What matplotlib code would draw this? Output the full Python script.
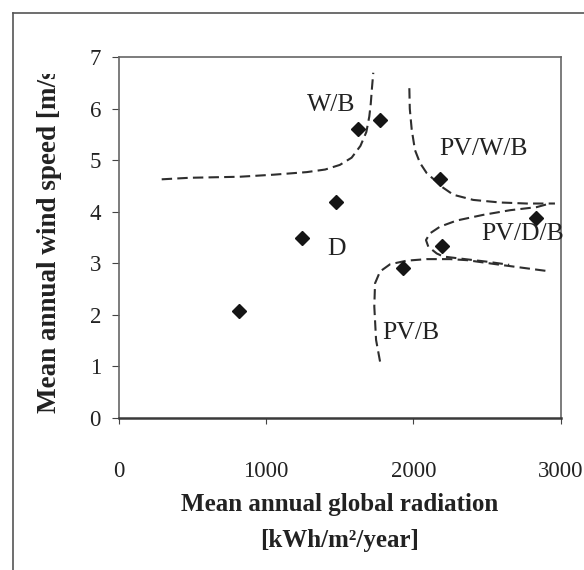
import numpy as np
import matplotlib
matplotlib.use("Agg")
import matplotlib.pyplot as plt
from matplotlib.lines import Line2D
from matplotlib.transforms import Bbox, TransformedBbox

plt.rcParams['font.family'] = ['Liberation Serif', 'DejaVu Serif']

# site data: mean annual global radiation [kWh/m2/year] vs mean wind speed [m/s]
rad = [813, 1242, 1472, 1624, 1773, 2179, 2197, 1932, 2833]
wind = [2.07, 3.49, 4.19, 5.60, 5.79, 4.63, 3.34, 2.91, 3.87]

# boundaries between optimal system configurations
wb_x = [290, 480, 820, 1050, 1275, 1400, 1500, 1580, 1640, 1680, 1700, 1710, 1718, 1727]
wb_y = [4.63, 4.66, 4.68, 4.72, 4.77, 4.82, 4.91, 5.05, 5.28, 5.55, 5.85, 6.10, 6.40, 6.70]

pvwb_x = [1972, 1975, 1988, 2010, 2044, 2090, 2150, 2200, 2271, 2406, 2588, 2769, 2961]
pvwb_y = [6.40, 6.00, 5.60, 5.20, 4.95, 4.75, 4.60, 4.47, 4.33, 4.23, 4.18, 4.16, 4.16]

pvdb_x = [2900, 2837, 2656, 2474, 2294, 2180, 2112, 2085, 2101, 2158, 2203, 2350, 2500, 2650]
pvdb_y = [4.14, 4.09, 4.03, 3.94, 3.83, 3.71, 3.58, 3.45, 3.32, 3.19, 3.13, 3.08, 3.03, 2.97]

pvb_x = [1773, 1746, 1734, 1739, 1773, 1841, 1954, 2090, 2248, 2362, 2588, 2905]
pvb_y = [1.09, 1.51, 2.16, 2.61, 2.84, 2.98, 3.05, 3.08, 3.08, 3.06, 2.97, 2.85]

regions = ["W/B", "PV/W/B", "PV/D/B", "D", "PV/B"]
region_pos = [(1439, 6.07), (2475, 5.22), (2740, 3.56), (1477, 3.28), (1982, 1.64)]

W, H = 584, 570
fig = plt.figure(figsize=(W / 100, H / 100), dpi=100)
ax = fig.add_axes([119 / W, 1 - 417.7 / H, (560.7 - 119) / W, (417.7 - 57.3) / H])

dash = (0, (5, 2.5))
for cx, cy in [(wb_x, wb_y), (pvwb_x, pvwb_y), (pvdb_x, pvdb_y), (pvb_x, pvb_y)]:
    ax.plot(cx, cy, color='#2e2e2e', lw=1.5, linestyle=dash)

ax.plot(rad, wind, linestyle='none', marker='D', ms=7.5, color='#151515')

for name, (px, py) in zip(regions, region_pos):
    ax.text(px, py, name, fontsize=18.5, ha='center', va='center', color='#222222')

ax.set_xlim(0, 3000)
ax.set_ylim(0, 7)
ax.set_xticks([0, 1000, 2000, 3000])
ax.set_yticks(range(8))
ax.tick_params(axis='x', direction='out', length=4.5, pad=27, labelsize=16.5,
               color='#444444', labelcolor='#222222')
ax.tick_params(axis='y', direction='out', length=5, pad=8, labelsize=16.5,
               color='#444444', labelcolor='#222222')
for side in ['left', 'right', 'top']:
    ax.spines[side].set_color('#666666')
    ax.spines[side].set_linewidth(1.2)
ax.spines['bottom'].set_color('#3a3a3a')
ax.spines['bottom'].set_linewidth(1.8)

fig.text(340 / W, 1 - 505 / H, 'Mean annual global radiation', fontsize=18,
         fontweight='bold', ha='center', va='center', color='#222222')
fig.text(340 / W, 1 - 540 / H, '[kWh/m\u00b2/year]', fontsize=18,
         fontweight='bold', ha='center', va='center', color='#222222')

ylab = fig.text(49.5 / W, 1 - 413 / H, 'Mean annual wind speed [m/s]', fontsize=19.5,
                fontweight='bold', rotation=90, rotation_mode='anchor',
                ha='left', va='center', color='#222222')
ylab.set_clip_box(TransformedBbox(Bbox([[0, 0], [1, 1 - 74 / H]]), fig.transFigure))
ylab.set_clip_on(True)

# outer frame
fig.add_artist(Line2D([12.5 / W, 12.5 / W], [0, 1 - 12.7 / H], color='#555555', lw=1.2,
                      transform=fig.transFigure))
fig.add_artist(Line2D([12.5 / W, 1], [1 - 12.7 / H, 1 - 12.7 / H], color='#555555', lw=1.2,
                      transform=fig.transFigure))

fig.savefig('out.png', dpi=100, facecolor='white')
